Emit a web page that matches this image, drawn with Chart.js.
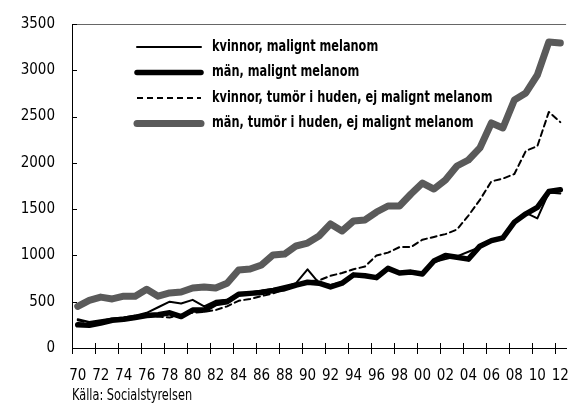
<!DOCTYPE html>
<html>
<head>
<meta charset="utf-8">
<script src="https://cdn.jsdelivr.net/npm/chart.js@4/dist/chart.umd.min.js"></script>
<style>
  html, body { margin: 0; padding: 0; background: #fff; overflow: hidden; }
  #wrap { width: 580px; height: 405px; }
</style>
</head>
<body>
<div id="wrap"><canvas id="chart" width="580" height="405"></canvas></div>
<script>
const years = ['70','71','72','73','74','75','76','77','78','79','80','81','82','83','84','85','86','87','88','89',
  '90','91','92','93','94','95','96','97','98','99','00','01','02','03','04','05','06','07','08','09','10','11','12'];

const kvinnorMM = [310,280,300,320,330,350,380,440,500,480,520,450,510,520,590,600,620,640,670,700,
  850,700,680,710,800,780,770,850,820,830,810,930,960,990,1040,1090,1150,1180,1360,1460,1400,1680,1670];
const manMM = [250,245,270,300,310,330,350,360,380,340,410,410,480,500,580,590,600,620,640,680,
  710,700,660,700,790,780,760,860,810,820,800,940,1000,980,960,1100,1160,1190,1360,1450,1520,1690,1710];
const kvinnorTumor = [300,270,290,300,320,330,350,340,330,360,380,390,410,450,510,530,560,590,630,680,
  720,730,780,810,850,880,1000,1030,1090,1090,1170,1200,1230,1280,1430,1600,1800,1830,1880,2130,2180,2550,2440];
const manTumor = [450,515,550,530,560,560,635,560,595,605,648,660,648,700,843,853,897,1005,1015,1102,
  1134,1210,1340,1264,1372,1383,1469,1534,1534,1664,1782,1717,1815,1966,2031,2161,2431,2377,2679,2755,2949,3306,3295];

const yTicks = [0,500,1000,1500,2000,2500,3000,3500];
const seriesNames = ['kvinnor, malignt melanom','män, malignt melanom','kvinnor, tumör i huden, ej malignt melanom','män, tumör i huden, ej malignt melanom'];
const source = 'Källa: Socialstyrelsen';

const FONT = '"DejaVu Sans Condensed", "DejaVu Sans", sans-serif';

// draw text squeezed horizontally, to imitate a narrow typeface
function narrowText(ctx, text, x, y, sx) {
  ctx.save();
  ctx.translate(x, y);
  ctx.scale(sx, 1);
  ctx.fillText(text, 0, 0);
  ctx.restore();
}

const extras = {
  id: 'extras',
  afterDraw(chart) {
    const ctx = chart.ctx, a = chart.chartArea;
    const xs = chart.scales.x, ys = chart.scales.y;
    ctx.save();
    // top frame
    ctx.strokeStyle = '#666'; ctx.lineWidth = 1;
    ctx.beginPath(); ctx.moveTo(a.left, a.top + 0.5); ctx.lineTo(a.right, a.top + 0.5); ctx.stroke();
    // y ticks, pointing inward
    ctx.strokeStyle = '#000';
    yTicks.forEach(v => {
      const y = Math.round(ys.getPixelForValue(v)) + 0.5;
      ctx.beginPath(); ctx.moveTo(a.left, y); ctx.lineTo(a.left + 5, y); ctx.stroke();
    });
    // x ticks every second year, crossing the axis
    const half = (xs.getPixelForValue(1) - xs.getPixelForValue(0)) / 2;
    for (let i = 0; i < years.length; i += 2) {
      const x = Math.round(xs.getPixelForValue(i) - half) + 0.5;
      ctx.beginPath(); ctx.moveTo(x, a.bottom - 5); ctx.lineTo(x, a.bottom + 6); ctx.stroke();
    }
    // legend
    ctx.font = 'bold 15px ' + FONT;
    ctx.textBaseline = 'middle';
    chart.data.datasets.forEach((ds, i) => {
      const y = 47 + i * 25.5;
      ctx.strokeStyle = ds.borderColor;
      ctx.lineWidth = ds.borderWidth;
      ctx.lineCap = ds.borderDash.length ? 'butt' : 'round';
      ctx.setLineDash(ds.borderDash);
      ctx.beginPath(); ctx.moveTo(137, y); ctx.lineTo(201, y); ctx.stroke();
      ctx.setLineDash([]);
      ctx.fillStyle = '#000';
      narrowText(ctx, ds.label, 212, y, 0.84);
    });
    // source
    ctx.font = '15px ' + FONT;
    narrowText(ctx, source, 72, 396, 0.84);
    ctx.restore();
  }
};

new Chart(document.getElementById('chart'), {
  type: 'line',
  data: {
    labels: years,
    datasets: [
      { label: seriesNames[0], data: kvinnorMM, borderColor: '#000', borderWidth: 2, borderDash: [] },
      { label: seriesNames[1], data: manMM, borderColor: '#000', borderWidth: 5.5, borderDash: [] },
      { label: seriesNames[2], data: kvinnorTumor, borderColor: '#000', borderWidth: 2, borderDash: [6, 4] },
      { label: seriesNames[3], data: manTumor, borderColor: '#5a5a5a', borderWidth: 7, borderDash: [] }
    ].map(d => Object.assign(d, { pointRadius: 0, tension: 0, borderJoinStyle: 'round', borderCapStyle: 'round', fill: false }))
  },
  options: {
    responsive: false,
    animation: false,
    layout: { padding: { top: 24, right: 7, left: 0, bottom: 0 } },
    plugins: { legend: { display: false }, tooltip: { enabled: false } },
    scales: {
      x: {
        type: 'category',
        offset: true,
        grid: { display: false },
        border: { display: true, color: '#000', width: 1 },
        ticks: {
          autoSkip: false, maxRotation: 0, padding: 11, color: '#000',
          font: { family: FONT, size: 15 },
          callback: (v, i) => i % 2 === 0 ? years[i] : ''
        },
        afterFit: s => { s.height = 57; }
      },
      y: {
        min: 0, max: 3500,
        grid: { display: false },
        border: { display: true, color: '#000', width: 1 },
        afterBuildTicks: s => { s.ticks = yTicks.map(v => ({ value: v })); },
        ticks: { padding: 9, color: '#000', font: { family: FONT, size: 15 }, callback: v => String(v) },
        afterFit: s => { s.width = 72; }
      }
    }
  },
  plugins: [extras]
});
</script>
</body>
</html>
